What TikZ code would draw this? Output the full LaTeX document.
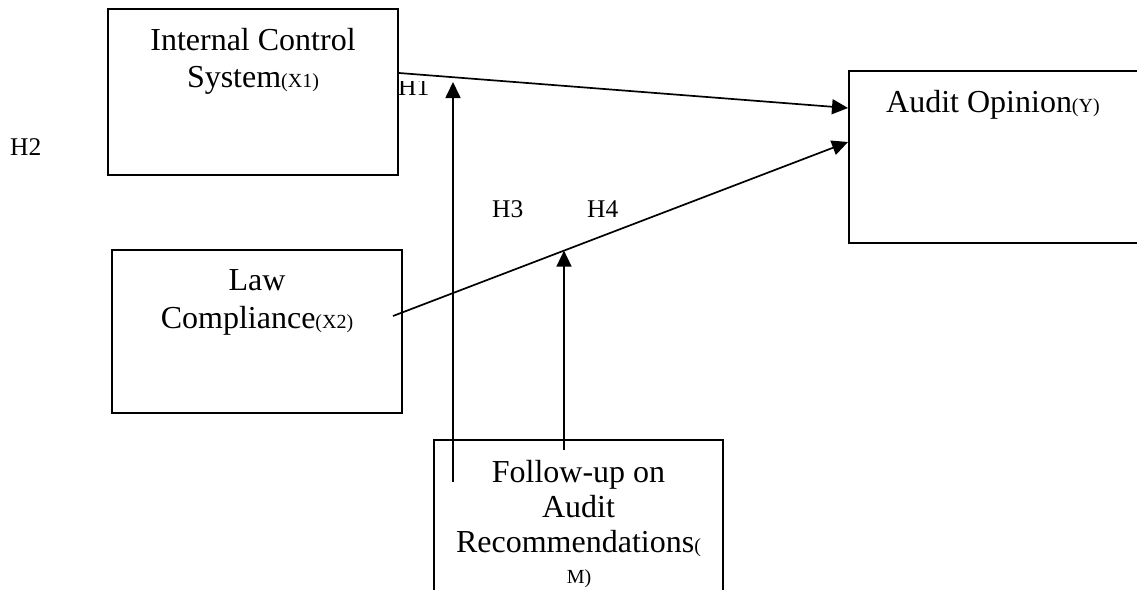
\documentclass[tikz,border=0pt]{standalone}
\usepackage{fontspec}
\setmainfont{Liberation Serif}
\usetikzlibrary{arrows.meta,calc}

\newcommand\smallpart[1]{{\fontsize{20}{22}\selectfont #1}}

\tikzset{
  box/.style={draw, line width=2pt, inner sep=0pt, outer sep=0pt, minimum width=#1},
  txt/.style={inner sep=0pt, anchor=base, font=\fontsize{32}{37}\selectfont},
  hyp/.style={inner sep=0pt, anchor=base west, font=\fontsize{25.5}{27}\selectfont},
  link/.style={line width=1.7pt, -{Triangle[length=16pt,width=15pt]}}
}

\begin{document}
\begin{tikzpicture}[x=1pt,y=-1pt]
  \useasboundingbox (0,0) rectangle (1137,589);
  \clip (0,0) rectangle (1137,589);

  % boxes
  \node[box=290pt, minimum height=166pt] (ics) at (253,92) {};
  \node[box=311pt, minimum height=172pt] (ao)  at (1004.5,157) {};
  \node[box=290pt, minimum height=163pt] (law) at (257,331.5) {};
  \node[box=289pt, minimum height=160pt] (fu)  at (578.5,520) {};

  % box texts
  \node[txt] (icsA) at (253,50) {Internal Control};
  \node[txt] (icsB) at (253,87) {System\smallpart{(X1)}};
  \node[txt, anchor=base west] (aoA) at (886,112) {Audit Opinion\smallpart{(Y)}};
  \node[txt] (lawA) at (257,290) {Law};
  \node[txt] (lawB) at (257,328) {Compliance\smallpart{(X2)}};
  \node[txt] (fuA) at (578.5,482) {Follow-up on};
  \node[txt] (fuB) at (578.5,517) {Audit};
  \node[txt] (fuC) at (578.5,552) {Recommendations\smallpart{(}};
  \node[txt, font=\fontsize{20}{22}\selectfont] (fuD) at (579,583) {M)};

  % hypothesis labels
  \begin{scope}
    \clip (390,81) rectangle (440,100);
    \node[hyp] (h1) at (398,95) {H1};
  \end{scope}
  \node[hyp] (h2) at (10,155) {H2};
  \node[hyp] (h3) at (492,217) {H3};
  \node[hyp] (h4) at (587,217) {H4};

  % direct effects
  \draw[link] ($(ics.north east)+(1,64)$) -- ($(ao.north west)+(-1,37)$);
  \draw[link] ($(law.north east)+(-9,66)$) -- coordinate[pos=0.3758] (hit) ($(ao.north west)+(-1,71)$);

  % moderating effects
  \coordinate (m1) at ($(fu.north west)+(19,42)$);
  \coordinate (t1) at ($(ics.north east)+(55,73)$);
  \draw[link] (m1) -- (m1 |- t1);
  \coordinate (m2) at ($(fu.north west)+(130,10)$);
  \draw[link] (m2) -- (m2 |- hit);
\end{tikzpicture}
\end{document}
